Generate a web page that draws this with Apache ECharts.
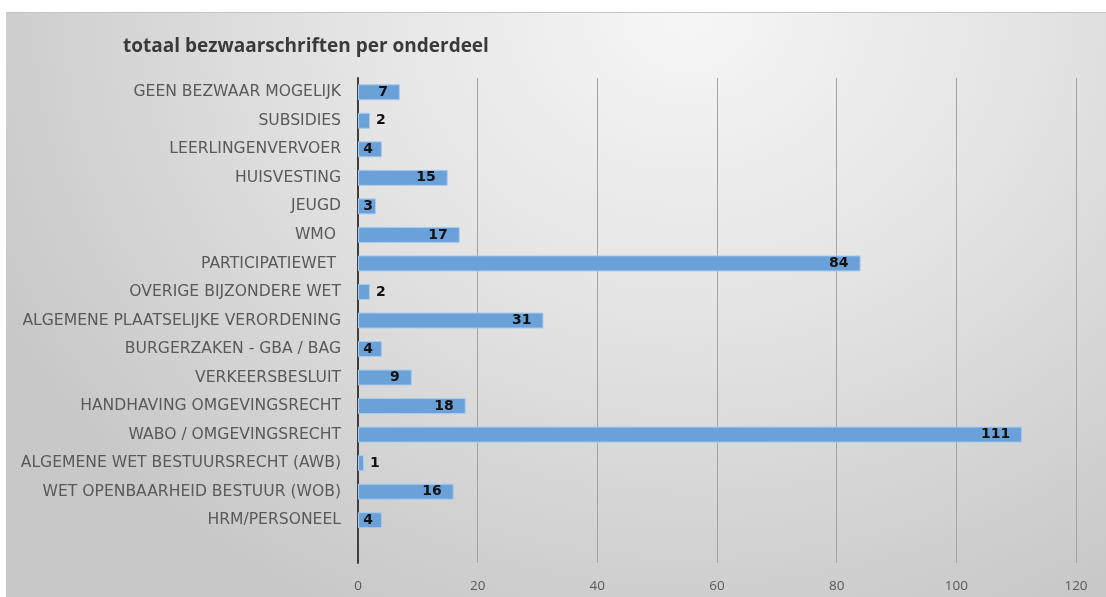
<!DOCTYPE html>
<html>
<head>
<meta charset="utf-8">
<script src="https://cdn.jsdelivr.net/npm/echarts@6/dist/echarts.min.js"></script>
<style>
html,body{margin:0;padding:0;background:#fff;}
#panel{position:absolute;left:6px;top:12px;width:1100px;height:585px;border-top:1px solid #c4c4c4;
background:radial-gradient(ellipse 70% 115% at 62% 0%, #f6f6f6 0%, #e4e4e4 45%, #d2d2d2 80%, #c8c8c8 100%);}
#chart{position:absolute;left:0;top:0;width:1106px;height:597px;}
</style>
</head>
<body>
<div id="panel"></div>
<div id="chart"></div>
<script>
const titleText = 'totaal bezwaarschriften per onderdeel';
const categories = [
  'GEEN BEZWAAR MOGELIJK',
  'SUBSIDIES',
  'LEERLINGENVERVOER',
  'HUISVESTING',
  'JEUGD',
  'WMO ',
  'PARTICIPATIEWET ',
  'OVERIGE BIJZONDERE WET',
  'ALGEMENE PLAATSELIJKE VERORDENING',
  'BURGERZAKEN - GBA / BAG',
  'VERKEERSBESLUIT',
  'HANDHAVING OMGEVINGSRECHT',
  'WABO / OMGEVINGSRECHT',
  'ALGEMENE WET BESTUURSRECHT (AWB)',
  'WET OPENBAARHEID BESTUUR (WOB)',
  'HRM/PERSONEEL',
  ''
];
const values = [7, 2, 4, 15, 3, 17, 84, 2, 31, 4, 9, 18, 111, 1, 16, 4, null];
const xTicks = [0, 20, 40, 60, 80, 100, 120];

const chart = echarts.init(document.getElementById('chart'), null, {renderer: 'canvas'});
const gridLeft = 358, gridRight = 30;
const pxPerUnit = (1106 - gridLeft - gridRight) / (xTicks[xTicks.length - 1] - xTicks[0]);
const seriesData = values.map(v => {
  if (v === null) return {value: null};
  const small = v < 3;
  const barPx = v * pxPerUnit;
  const textW = String(v).length * 10;
  const dist = Math.max(1, Math.min(12, barPx - textW - 5));
  return {
    value: v,
    label: {position: small ? 'right' : 'insideRight', distance: small ? 6 : dist}
  };
});
chart.setOption({
  backgroundColor: 'transparent',
  animation: false,
  title: {
    text: titleText,
    left: 118, top: 32,
    textStyle: {fontFamily: 'Open Sans', fontSize: 19, fontWeight: 'bold', color: '#3a3a3a'}
  },
  grid: {left: gridLeft, right: gridRight, top: 78, bottom: 34, containLabel: false},
  xAxis: {
    type: 'value', min: xTicks[0], max: xTicks[xTicks.length - 1], interval: 20,
    axisLine: {show: false}, axisTick: {show: false},
    axisLabel: {color: '#595959', fontFamily: 'Open Sans', fontSize: 13.5, margin: 16},
    splitLine: {show: true, lineStyle: {color: '#a3a3a3', width: 1}}
  },
  yAxis: {
    type: 'category', data: categories, inverse: true,
    axisLine: {show: true, lineStyle: {color: '#3f3f3f', width: 2}},
    axisTick: {show: false},
    axisLabel: {color: '#595959', fontFamily: 'DejaVu Sans', fontSize: 15.6, margin: 17}
  },
  series: [{
    type: 'bar',
    data: seriesData,
    barWidth: 16,
    itemStyle: {color: '#6aa1d8', borderColor: '#a9cbed', borderWidth: 1},
    label: {show: true, color: '#111', fontWeight: 'bold', fontFamily: 'DejaVu Sans', fontSize: 14}
  }]
});
</script>
</body>
</html>
